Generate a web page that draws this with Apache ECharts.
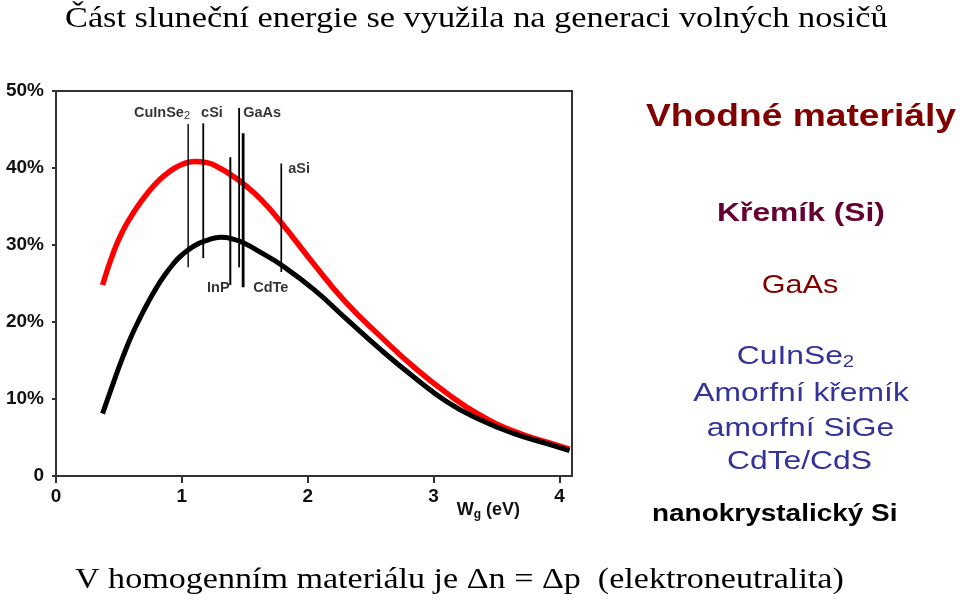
<!DOCTYPE html>
<html><head><meta charset="utf-8">
<script src="https://cdn.jsdelivr.net/npm/echarts@6/dist/echarts.min.js"></script>
<style>html,body{margin:0;padding:0;background:#fff}#c{width:960px;height:602px}</style>
</head><body><div id="c"></div>
<script>
// Band gap energy (eV)
const energyEV = [0.37, 0.46, 0.53, 0.6, 0.67, 0.73, 0.8, 0.86, 0.93, 1.0, 1.1, 1.2, 1.31, 1.4, 1.5, 1.63, 1.79, 2.05, 2.3, 2.58, 2.84, 3.11, 3.37, 3.64, 3.9, 4.08];
// upper (red) curve, %
const redCurve = [24.8, 29.2, 31.8, 33.8, 35.5, 36.8, 38.1, 39.0, 39.85, 40.45, 40.85, 40.7, 39.9, 39.0, 37.8, 35.9, 32.9, 27.5, 22.6, 18.1, 14.2, 10.7, 7.9, 5.8, 4.4, 3.5];
// lower (black) curve, %
const blackCurve = [8.1, 12.3, 15.4, 18.2, 20.6, 22.5, 24.5, 26.0, 27.5, 28.7, 29.9, 30.6, 31.0, 30.8, 30.2, 29.0, 27.4, 24.2, 20.5, 16.4, 12.9, 9.6, 7.3, 5.5, 4.2, 3.3];
// material band-gap markers
const markerNames = ['CuInSe2', 'cSi', 'InP', 'GaAs', 'CdTe', 'aSi'];
const markerX = [1.05, 1.17, 1.385, 1.455, 1.487, 1.79];
const markerTop = [45.7, 45.8, 41.4, 47.8, 44.5, 40.6];
const markerBottom = [27.1, 28.3, 24.8, 27.1, 24.5, 26.5];
// tick labels
const xTicks = [0, 1, 2, 3, 4];
const yTicks = [0, 10, 20, 30, 40, 50];

const markerWidths = [1.4, 1.8, 2, 1.8, 2.8, 1.7];
const labelDefs = [
  {text: 'CuInSe{s|2}', x: 1.065, y: 47.1, pos: 'left'},
  {text: 'cSi', x: 1.153, y: 47.1, pos: 'right'},
  {text: 'GaAs', x: 1.487, y: 47.1, pos: 'right'},
  {text: 'aSi', x: 1.845, y: 39.9, pos: 'right'},
  {text: 'InP', x: 1.20, y: 24.4, pos: 'right'},
  {text: 'CdTe', x: 1.567, y: 24.4, pos: 'right'}
];

const chart = echarts.init(document.getElementById('c'), null, {renderer: 'canvas'});
const lab = {fontFamily: 'Liberation Sans', fontWeight: 'bold', fontSize: 19, color: '#111'};

const series = [
  {type: 'line', name: 'red', data: energyEV.map((e, i) => [e, redCurve[i]]), smooth: 0.5, symbol: 'none',
   lineStyle: {color: '#ff0000', width: 5.5}, z: 3},
  {type: 'line', name: 'black', data: energyEV.map((e, i) => [e, blackCurve[i]]), smooth: 0.5, symbol: 'none',
   lineStyle: {color: '#000000', width: 5}, z: 4}
];
markerNames.forEach((n, i) => {
  series.push({type: 'line', name: n, data: [[markerX[i], markerTop[i]], [markerX[i], markerBottom[i]]],
    symbol: 'none', silent: true, lineStyle: {color: '#000', width: markerWidths[i]}, z: 5});
});
series.push({
  type: 'scatter', symbolSize: 0, silent: true, z: 6,
  data: labelDefs.map(d => ({value: [d.x, d.y], name: d.text,
    label: {show: true, position: d.pos, distance: 0, formatter: d.text,
      fontFamily: 'Liberation Sans', fontWeight: 'bold', fontSize: 14.5, color: '#000',
      rich: {s: {fontFamily: 'Liberation Sans', fontWeight: 'normal', fontSize: 11, color: '#000', verticalAlign: 'bottom', padding: [6, 0, 0, 0]}}}}))
});

function t(text, x, y, opts) {
  return Object.assign({type: 'text', x: x, y: y, scaleX: 1.2, silent: true,
    style: Object.assign({text: text, fill: '#000', align: 'center', verticalAlign: 'middle',
      textAlign: 'center', textVerticalAlign: 'middle', fontFamily: 'Liberation Sans', fontSize: 26}, opts)});
}

chart.setOption({
  animation: false,
  backgroundColor: '#ffffff',
  grid: {left: 56, right: 388, top: 91, bottom: 126, show: true, borderColor: '#333', borderWidth: 2, backgroundColor: '#fff'},
  xAxis: {
    type: 'value', min: 0, max: 4.1, interval: 1,
    name: 'W{s|g} (eV)', nameLocation: 'end', nameGap: -52,
    nameTextStyle: {fontFamily: 'Liberation Sans', fontWeight: 'bold', fontSize: 18, color: '#111', align: 'right', verticalAlign: 'middle',
      padding: [68, 0, 0, 0], rich: {s: {fontFamily: 'Liberation Sans', fontWeight: 'bold', fontSize: 12, color: '#111', verticalAlign: 'bottom', padding: [9, 0, 0, 0]}}},
    axisLine: {lineStyle: {color: '#333', width: 2}},
    axisTick: {show: true, length: 7, lineStyle: {color: '#333', width: 2}},
    splitLine: {show: false},
    axisLabel: Object.assign({margin: 11, showMaxLabel: false,
      formatter: v => xTicks.indexOf(v) >= 0 ? String(v) : ''}, lab)
  },
  yAxis: {
    type: 'value', min: 0, max: 50, interval: 10,
    axisLine: {show: true, lineStyle: {color: '#333', width: 2}},
    axisTick: {show: true, length: 4, lineStyle: {color: '#333', width: 2}},
    splitLine: {show: false},
    axisLabel: Object.assign({margin: 12,
      formatter: v => yTicks.indexOf(v) >= 0 ? (v === 0 ? '0' : v + '%') : ''}, lab)
  },
  series: series,
  graphic: [
    t('Část sluneční energie se využila na generaci volných nosičů', 65, 19,
      {align: 'left', textAlign: 'left', fontFamily: 'Liberation Serif', fontSize: 28.6}),
    t('Vhodné materiály', 801, 117.5, {fontWeight: 'bold', fontSize: 31, fill: '#800000'}),
    t('Křemík (Si)', 801, 214, {fontWeight: 'bold', fontSize: 26.5, fill: '#660033'}),
    t('GaAs', 800, 285.5, {fontSize: 25.5, fill: '#800000'}),
    t('{a|CuInSe}{s|2}', 795.5, 357, {fill: '#333399', rich: {
      a: {fontFamily: 'Liberation Sans', fontSize: 26.5, fill: '#333399'},
      s: {fontFamily: 'Liberation Sans', fontSize: 17, fill: '#333399', verticalAlign: 'bottom', padding: [10, 0, 0, 0]}}}),
    t('Amorfní křemík', 801, 394, {fontSize: 26.5, fill: '#333399'}),
    t('amorfní SiGe', 800.5, 429, {fontSize: 26.5, fill: '#333399'}),
    t('CdTe/CdS', 799.5, 462, {fontSize: 26.5, fill: '#333399'}),
    t('nanokrystalický Si', 652, 514.5, {align: 'left', textAlign: 'left', fontWeight: 'bold', fontSize: 23.3, fill: '#000'}),
    t('V homogenním materiálu je \u0394n = \u0394p  (elektroneutralita)', 75, 581,
      {align: 'left', textAlign: 'left', fontFamily: 'Liberation Serif', fontSize: 28.4})
  ]
});
</script>
</body></html>
